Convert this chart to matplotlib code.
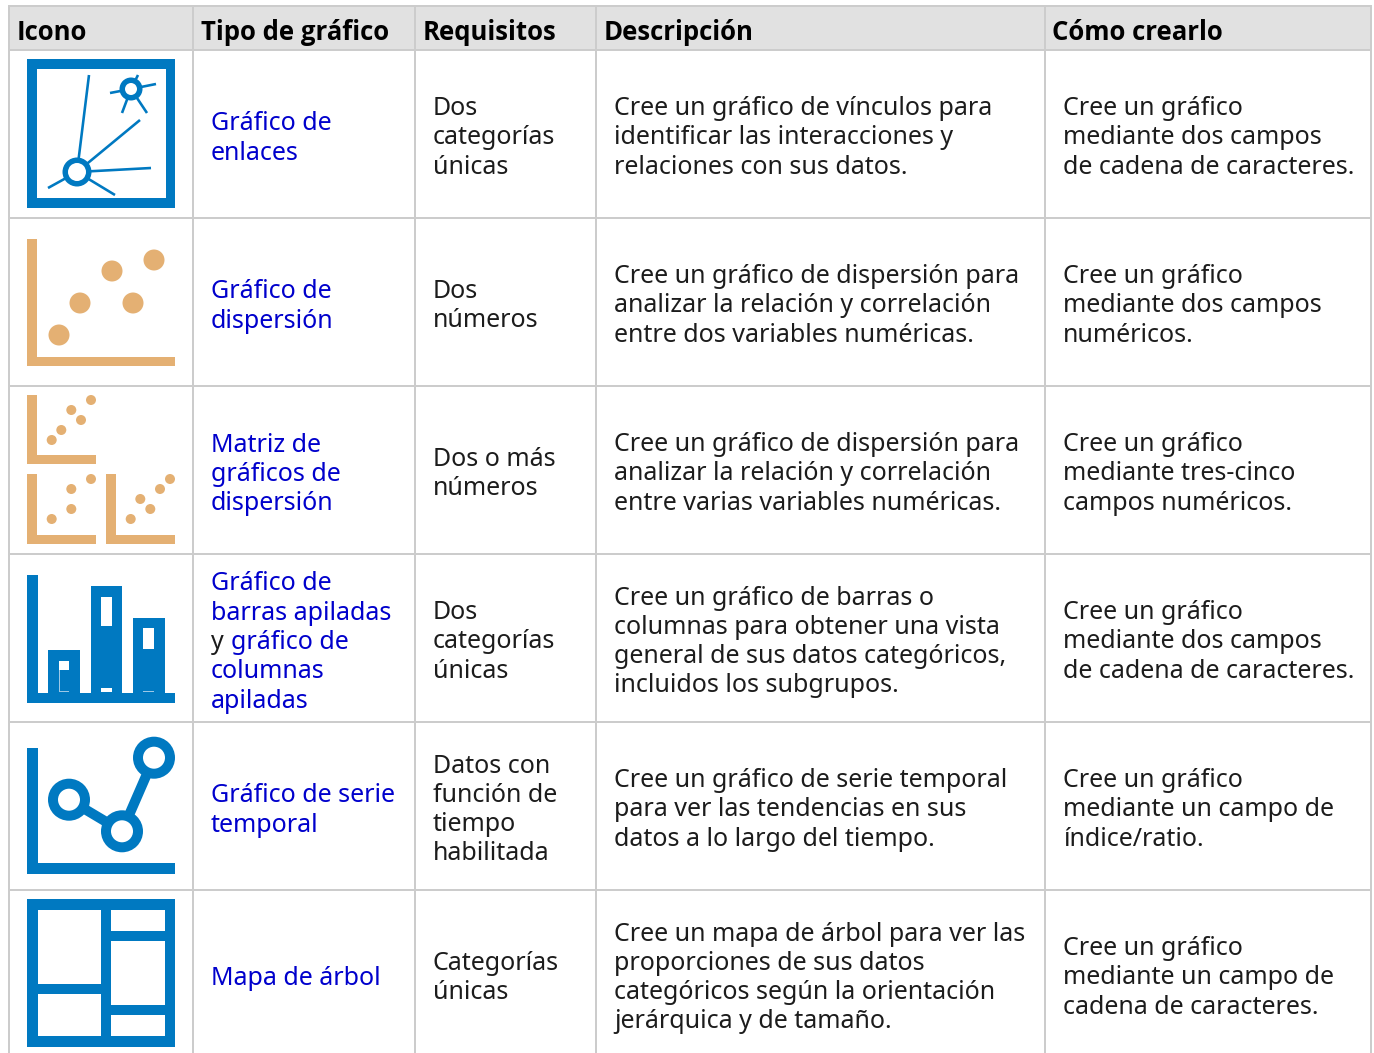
#icon table, drawn in pixel coordinates of the 1374x1053 page
import matplotlib
matplotlib.use("Agg")
import matplotlib.pyplot as plt
from matplotlib.patches import Rectangle, Circle

BLUE = "#0079c1"; TAN = "#e4b073"; LINK = "#0000cc"; INK = "#1c1c1c"; GRID = "#cccccc"; HEAD = "#e1e1e1"
plt.rcParams["font.family"] = ["Noto Sans", "DejaVu Sans"]

headers = ["Icono", "Tipo de gráfico", "Requisitos", "Descripción", "Cómo crearlo"]
names = [["Gráfico de", "enlaces"], ["Gráfico de", "dispersión"], ["Matriz de", "gráficos de", "dispersión"],
         ["Gráfico de", "barras apiladas", "y gráfico de", "columnas", "apiladas"],
         ["Gráfico de serie", "temporal"], ["Mapa de árbol"]]
reqs = [["Dos", "categorías", "únicas"], ["Dos", "números"], ["Dos o más", "números"],
        ["Dos", "categorías", "únicas"], ["Datos con", "función de", "tiempo", "habilitada"], ["Categorías", "únicas"]]
descs = [["Cree un gráfico de vínculos para", "identificar las interacciones y", "relaciones con sus datos."],
         ["Cree un gráfico de dispersión para", "analizar la relación y correlación", "entre dos variables numéricas."],
         ["Cree un gráfico de dispersión para", "analizar la relación y correlación", "entre varias variables numéricas."],
         ["Cree un gráfico de barras o", "columnas para obtener una vista", "general de sus datos categóricos,", "incluidos los subgrupos."],
         ["Cree un gráfico de serie temporal", "para ver las tendencias en sus", "datos a lo largo del tiempo."],
         ["Cree un mapa de árbol para ver las", "proporciones de sus datos", "categóricos según la orientación", "jerárquica y de tamaño."]]
hows = [["Cree un gráfico", "mediante dos campos", "de cadena de caracteres."],
        ["Cree un gráfico", "mediante dos campos", "numéricos."],
        ["Cree un gráfico", "mediante tres-cinco", "campos numéricos."],
        ["Cree un gráfico", "mediante dos campos", "de cadena de caracteres."],
        ["Cree un gráfico", "mediante un campo de", "índice/ratio."],
        ["Cree un gráfico", "mediante un campo de", "cadena de caracteres."]]

col_x = [9, 193, 415, 596, 1045, 1371]
row_y = [50, 218, 386, 554, 722, 890]
head_x = [17, 201, 423, 604, 1052]
text_x = [211, 433, 614, 1063]
FS = 18.0; LH = 29.3

fig = plt.figure(figsize=(13.74, 10.53), dpi=100)
ax = fig.add_axes([0, 0, 1, 1]); ax.set_xlim(0, 1374); ax.set_ylim(1053, 0); ax.axis("off")

def px(w): return w * 72 / 100

def rect(x0, y0, x1, y1, c=BLUE, z=3):
    ax.add_patch(Rectangle((x0, y0), x1 - x0, y1 - y0, fc=c, ec="none", zorder=z))

def seg(x0, y0, x1, y1, w, c=BLUE, z=3):
    ax.plot([x0, x1], [y0, y1], color=c, lw=px(w), solid_capstyle="butt", zorder=z)

def dot(x, y, r, c=BLUE, z=3):
    ax.add_patch(Circle((x, y), r, fc=c, ec="none", zorder=z))

def ring(x, y, r0, r1):
    dot(x, y, r0, BLUE, 4); dot(x, y, r1, "white", 5)

def lshape(x0, y0, x1, y1, t, c):
    rect(x0, y0, x0 + t, y1, c); rect(x0, y1 - t, x1, y1, c)

# table frame
rect(col_x[0], 6, col_x[-1], row_y[0], HEAD, 1)
for x in col_x:
    ax.plot([x, x], [5, 1053], color=GRID, lw=px(2), zorder=2, solid_capstyle="butt")
for y in [6] + row_y:
    ax.plot([col_x[0] - 1, col_x[-1] + 1], [y, y], color=GRID, lw=px(2), zorder=2, solid_capstyle="butt")

for x, h in zip(head_x, headers):
    ax.text(x, 32, h, fontsize=18.5, fontfamily="Open Sans", fontweight="bold", color="black", va="center", ha="left", zorder=6)

def block(x, yc, lines, color):
    y0 = yc - LH * (len(lines) - 1) / 2
    for i, l in enumerate(lines):
        if l == "y gráfico de":  # only part of this line is a link
            t = ax.text(x, y0 + i * LH, "y", fontsize=FS, color=INK, va="center", ha="left", zorder=6)
            ax.annotate("gráfico de", xy=(1, 0), xycoords=t, xytext=(5, 0), textcoords="offset points",
                        fontsize=FS, color=color, va="bottom", ha="left", zorder=6)
        else:
            ax.text(x, y0 + i * LH, l, fontsize=FS, color=color, va="center", ha="left", zorder=6)

for i in range(6):
    yc = (row_y[i] + (row_y[i] + 168)) / 2 + 4
    block(text_x[0], yc + 0.5, names[i], LINK)
    block(text_x[1], yc, reqs[i], INK)
    block(text_x[2], yc, descs[i], INK)
    block(text_x[3], yc, hows[i], INK)

# icon 1, link chart
rect(27, 59, 175, 208); rect(36.5, 69, 166, 198, "white", 3.5)
for x, y in [(89, 75), (140, 120), (151, 168), (115, 195), (48, 188)]:
    seg(77, 172, x, y, 2.6, z=4)
for x, y in [(138, 75), (156, 84), (110, 93), (122, 113), (147, 113)]:
    seg(131, 89, x, y, 2.6, z=4)
ring(77, 172, 14.5, 9); ring(131, 89, 11.5, 6)

# icon 2, scatter
lshape(27, 239, 175, 366, 9.5, TAN)
for x, y in [(59, 335), (80, 303), (112, 271), (133, 303), (154, 260)]:
    dot(x, y, 10.5, TAN)

# icon 3, scatter matrix
lshape(27, 395, 96, 464, 9.5, TAN); lshape(27, 474, 96, 544, 9.5, TAN); lshape(106, 474, 175, 544, 9.5, TAN)
for x, y in [(51.7, 440), (61.3, 430), (71.3, 410), (81, 420), (91, 400),
             (51.7, 519), (71.3, 509), (71.3, 489), (91, 479),
             (130.7, 519), (140.3, 499), (150.3, 509), (160, 489), (170, 479)]:
    dot(x, y, 5, TAN)

# icon 4, stacked bars
lshape(27, 575, 175, 703, 10.5, BLUE)
rect(48, 650, 80, 695); rect(90.5, 586, 122, 695); rect(133, 617.7, 164.5, 695)
for x0, y0, x1, y1 in [(58.5, 660.7, 69, 670), (101, 596.7, 111.5, 625.7), (101, 688, 111.5, 692), (143, 628, 154, 649)]:
    rect(x0, y0, x1, y1, "white", 4)
rect(58.5, 670, 59.8, 692, "#9cc8e6", 4); rect(59, 691, 69, 692.2, "#9cc8e6", 4); rect(143, 691, 154, 692.2, "#9cc8e6", 4)

# icon 5, time series
lshape(27, 747.7, 175, 873.7, 10.5, BLUE)
seg(69, 799.7, 122, 831.3, 10); seg(122, 831.3, 154, 757.7, 10)
ring(69, 799.7, 21, 11); ring(122, 831.3, 21, 11); ring(154, 757.7, 21, 11)

# icon 6, treemap
rect(27, 899, 175, 1046.7)
for x0, y0, x1, y1 in [(37.5, 909.5, 101, 983.5), (37.5, 994, 101, 1036), (111, 909.5, 164.5, 931),
                       (111, 941, 164.5, 1004.7), (111, 1015, 164.5, 1036)]:
    rect(x0, y0, x1, y1, "white", 4)

fig.savefig("out.png", dpi=100)
